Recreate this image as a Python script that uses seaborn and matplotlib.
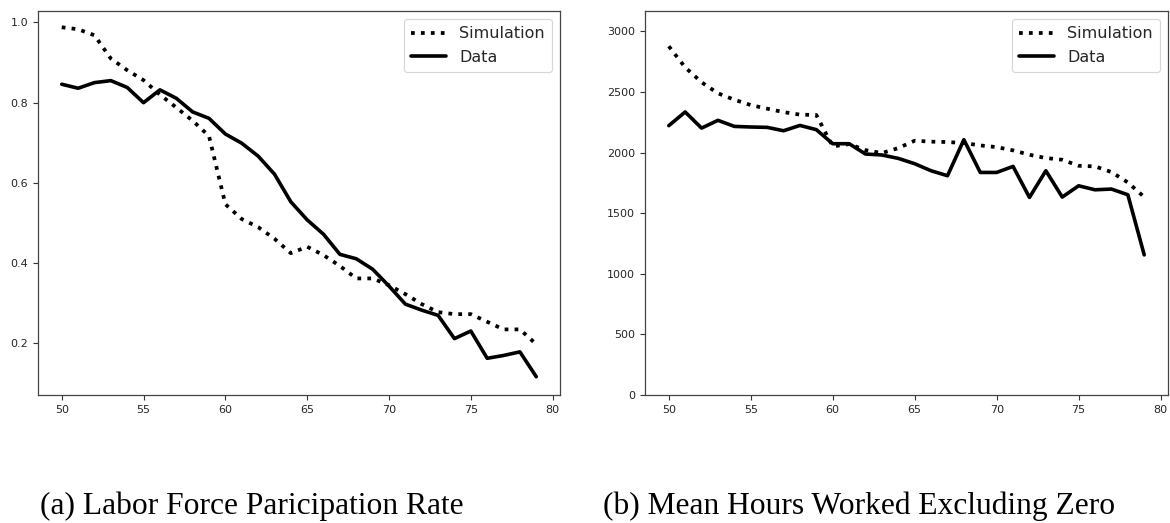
import numpy as np
import pandas as pd
import seaborn as sns
import matplotlib
matplotlib.use("Agg")
import matplotlib.pyplot as plt

ages = list(range(50, 80))

lfp_sim = [0.988, 0.983, 0.968, 0.910, 0.881, 0.856, 0.820, 0.788, 0.755, 0.717,
           0.547, 0.510, 0.490, 0.461, 0.425, 0.441, 0.420, 0.393, 0.362, 0.362,
           0.345, 0.323, 0.298, 0.278, 0.273, 0.273, 0.254, 0.235, 0.235, 0.198]
lfp_data = [0.846, 0.836, 0.850, 0.855, 0.838, 0.800, 0.832, 0.811, 0.777, 0.761,
            0.722, 0.699, 0.667, 0.622, 0.553, 0.508, 0.472, 0.422, 0.411, 0.385,
            0.343, 0.298, 0.283, 0.270, 0.212, 0.231, 0.163, 0.170, 0.179, 0.117]

hrs_sim = [2877, 2703, 2580, 2489, 2436, 2392, 2362, 2334, 2313, 2310,
           2051, 2070, 2020, 1996, 2037, 2098, 2090, 2087, 2079, 2059,
           2045, 2018, 1982, 1955, 1941, 1891, 1886, 1839, 1754, 1633]
hrs_data = [2222, 2335, 2202, 2266, 2216, 2211, 2208, 2180, 2224, 2189,
            2073, 2073, 1988, 1980, 1952, 1908, 1850, 1809, 2106, 1836,
            1836, 1886, 1630, 1850, 1633, 1726, 1693, 1699, 1652, 1156]

x_ticks = [50, 55, 60, 65, 70, 75, 80]
captions = ["(a) Labor Force Paricipation Rate", "(b) Mean Hours Worked Excluding Zero"]

sns.set_style("ticks")
plt.rcParams['font.family'] = ['DejaVu Sans']

fig = plt.figure(figsize=(11.7, 5.23), dpi=100)
W, H = 1170, 523
ax1 = fig.add_axes([38 / W, 1 - 395 / H, (560 - 38) / W, (395 - 11) / H])
ax2 = fig.add_axes([645 / W, 1 - 395 / H, (1168 - 645) / W, (395 - 11) / H])

for ax, sim, dat in [(ax1, lfp_sim, lfp_data), (ax2, hrs_sim, hrs_data)]:
    sns.lineplot(x=ages, y=sim, ax=ax, color="black", linestyle=":", linewidth=2.7, label="Simulation")
    sns.lineplot(x=ages, y=dat, ax=ax, color="black", linestyle="-", linewidth=2.6, label="Data")
    ax.set_xticks(x_ticks)
    ax.tick_params(labelsize=8, length=3.5, width=0.8, color="#333333")
    for s in ax.spines.values():
        s.set_color("#444444")
        s.set_linewidth(0.9)
    leg = ax.legend(loc="upper right", fontsize=11.5, frameon=True, handlelength=2.2,
                    borderpad=0.45, labelspacing=0.55, handletextpad=0.8)
    leg.get_frame().set_edgecolor("#cccccc")
    leg.get_frame().set_linewidth(0.8)

ax1.set_ylim(0.0715, 1.0285)
ax1.set_yticks([0.2, 0.4, 0.6, 0.8, 1.0])
ax1.set_yticklabels(["0.2", "0.4", "0.6", "0.8", "1.0"])
ax2.set_ylim(0, 3168)
ax2.set_yticks([0, 500, 1000, 1500, 2000, 2500, 3000])
for ax in (ax1, ax2):
    ax.set_xlim(48.55, 80.45)

fig.text(40 / W, 1 - 514 / H, captions[0], ha="left", va="baseline",
         fontsize=22.7, family="Liberation Serif", color="black")
fig.text(603 / W, 1 - 514 / H, captions[1], ha="left", va="baseline",
         fontsize=22.7, family="Liberation Serif", color="black")

fig.savefig("out.png", dpi=100)
